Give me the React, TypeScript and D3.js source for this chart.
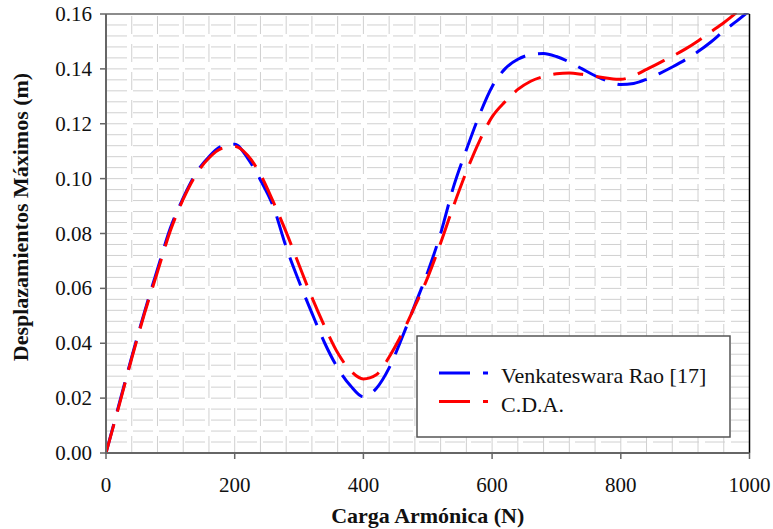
import React from "react";
import * as d3 from "d3";

const xValues = [0, 20, 40, 60, 80, 100, 120, 140, 160, 180, 200, 220, 240, 260, 280, 300, 320, 340, 360, 380, 400, 420, 440, 460, 480, 500, 520, 540, 560, 580, 600, 620, 640, 660, 680, 700, 720, 740, 760, 780, 800, 820, 840, 860, 880, 900, 920, 940, 960, 980, 1000];

const venkateswara = [0, 0.0175, 0.035, 0.0515, 0.067, 0.082, 0.093, 0.102, 0.108, 0.1118, 0.1125, 0.1075, 0.0995, 0.0898, 0.075, 0.0625, 0.051, 0.040, 0.031, 0.0245, 0.0205, 0.0235, 0.031, 0.042, 0.054, 0.066, 0.080, 0.097, 0.1105, 0.123, 0.1335, 0.140, 0.1435, 0.1452, 0.1456, 0.1445, 0.1425, 0.140, 0.1375, 0.1355, 0.1343, 0.1347, 0.1362, 0.1383, 0.1407, 0.1433, 0.1463, 0.1498, 0.1538, 0.1574, 0.1612];

const cda = [0, 0.017, 0.0345, 0.051, 0.066, 0.081, 0.0925, 0.1015, 0.1075, 0.111, 0.1118, 0.1085, 0.1015, 0.0915, 0.0805, 0.0685, 0.0567, 0.046, 0.0365, 0.030, 0.027, 0.0285, 0.035, 0.0435, 0.0535, 0.064, 0.0765, 0.090, 0.1025, 0.1135, 0.1225, 0.128, 0.1325, 0.1355, 0.1372, 0.1382, 0.1385, 0.138, 0.1373, 0.1366, 0.1362, 0.1375, 0.1398, 0.1422, 0.1446, 0.1472, 0.1502, 0.1535, 0.1568, 0.1605, 0.164];

const xTicks = [0, 200, 400, 600, 800, 1000];
const yTicks = [0, 0.02, 0.04, 0.06, 0.08, 0.1, 0.12, 0.14, 0.16];
const seriesNames = ["Venkateswara Rao [17]", "C.D.A."];
const seriesColors = ["#0000ff", "#ff0000"];

const W = 773;
const H = 529;
const L = 106, R = 749.5, T = 14, B = 453;
const FONT = "Liberation Serif, serif";
const tStyle = { fontFamily: FONT };

export default function App() {
  const x = d3.scaleLinear().domain([0, 1000]).range([L, R]);
  const y = d3.scaleLinear().domain([0, 0.16]).range([B, T]);
  const line = d3
    .line<[number, number]>()
    .x((d) => x(d[0]))
    .y((d) => y(d[1]))
    .curve(d3.curveMonotoneX);

  const hGrid = d3.range(1, 40).map((i) => i * 0.004);
  const vGrid = d3.range(1, 25).map((i) => i * 40);
  const series = [venkateswara, cda];

  return (
    <svg
      width={W}
      height={H}
      style={{ position: "absolute", left: 0, top: 0, background: "#fff", fontFamily: FONT }}
    >
      <defs>
        <clipPath id="plotclip">
          <rect x={L} y={T - 1} width={R - L} height={B - T + 1} />
        </clipPath>
      </defs>
      <rect x={0} y={0} width={W} height={H} fill="#fff" />
      {/* grid */}
      <g stroke="#d0d0d0" strokeWidth={1}>
        {hGrid.map((v) => (
          <line key={"h" + v} x1={L + 1} x2={R} y1={y(v)} y2={y(v)} strokeDasharray="20,6" />
        ))}
        {vGrid.map((v) => (
          <line key={"v" + v} x1={x(v)} x2={x(v)} y1={T + 2} y2={B} strokeDasharray="18,10" />
        ))}
      </g>
      {/* series */}
      <g clipPath="url(#plotclip)" fill="none" strokeWidth={3}>
        {series.map((s, i) => (
          <path
            key={i}
            d={line(xValues.map((xv, j) => [xv, s[j]] as [number, number])) || ""}
            stroke={seriesColors[i]}
            strokeDasharray="30,13"
          />
        ))}
      </g>
      {/* frame */}
      <line x1={L} x2={R} y1={T} y2={T} stroke="#666" strokeWidth={1.5} />
      <line x1={R} x2={R} y1={T} y2={B} stroke="#000" strokeWidth={1.5} />
      <line x1={L} x2={L} y1={T} y2={B + 1} stroke="#666" strokeWidth={2} />
      <line x1={L - 1} x2={R} y1={B} y2={B} stroke="#666" strokeWidth={2} />
      {/* ticks */}
      {yTicks.map((v) => (
        <g key={"yt" + v}>
          <line x1={L - 6} x2={L} y1={y(v)} y2={y(v)} stroke="#666" strokeWidth={1.5} />
          <text x={L - 14} y={y(v) + 7} textAnchor="end" fontSize={21} fill="#111" style={tStyle}>
            {v.toFixed(2)}
          </text>
        </g>
      ))}
      {xTicks.map((v) => (
        <g key={"xt" + v}>
          <line x1={x(v)} x2={x(v)} y1={B} y2={B + 6} stroke="#666" strokeWidth={1.5} />
          <text x={x(v)} y={492} textAnchor="middle" fontSize={21} fill="#111" style={tStyle}>
            {v}
          </text>
        </g>
      ))}
      {/* axis titles */}
      <text x={(L + R) / 2} y={523} textAnchor="middle" fontSize={22} fontWeight="bold" fill="#111" style={tStyle}>
        Carga Armónica (N)
      </text>
      <text
        transform={`translate(28, 217) rotate(-90)`}
        textAnchor="middle"
        fontSize={22}
        fontWeight="bold"
        fill="#111"
        style={tStyle}
      >
        Desplazamientos Máximos (m)
      </text>
      {/* legend */}
      <rect x={417} y={336} width={313} height={101} fill="#fff" stroke="#555" strokeWidth={1.5} />
      {seriesNames.map((n, i) => (
        <g key={n}>
          <line
            x1={439}
            x2={490}
            y1={373 + i * 28.5}
            y2={373 + i * 28.5}
            stroke={seriesColors[i]}
            strokeWidth={3}
            strokeDasharray="31,13,5,100"
          />
          <text x={501} y={383 + i * 29} fontSize={22} fill="#111" style={tStyle}>
            {n}
          </text>
        </g>
      ))}
    </svg>
  );
}
